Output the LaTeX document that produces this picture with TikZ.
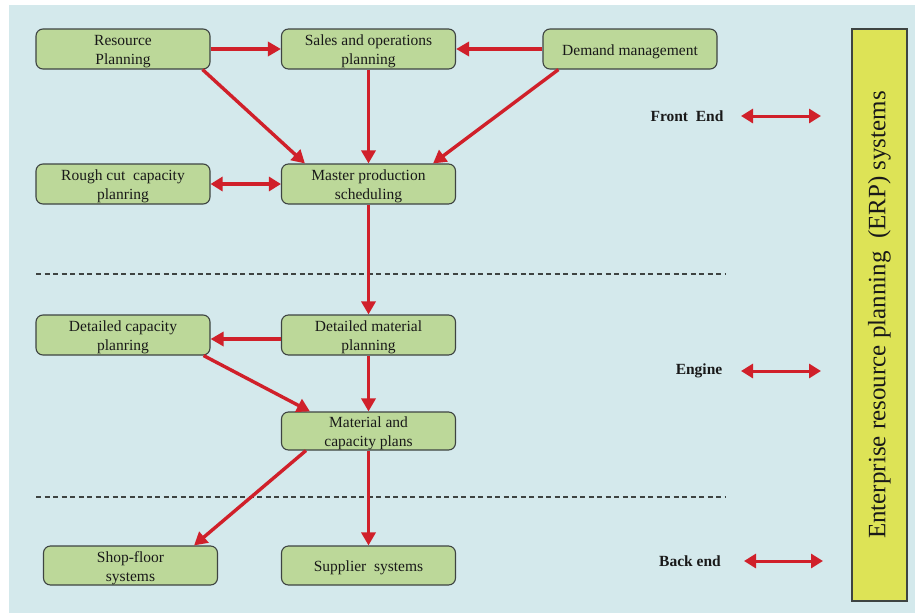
\documentclass[tikz,border=0pt]{standalone}
\usepackage{fontspec}
\setmainfont{Liberation Serif}
\usetikzlibrary{arrows.meta,calc}
\definecolor{bgblue}{HTML}{D4E9EC}
\definecolor{boxgreen}{HTML}{BCD899}
\definecolor{boxedge}{HTML}{3E4442}
\definecolor{flowred}{HTML}{D0202A}
\definecolor{erpyellow}{HTML}{DDE356}
\tikzset{
  stage/.style={draw=boxedge, line width=1.1pt, fill=boxgreen, rounded corners=7pt,
    minimum width=174pt, minimum height=40pt, inner sep=0pt},
  stagetext/.style={align=center, inner sep=0pt, yshift=-2.5pt,
    font=\fontsize{15.5}{19}\selectfont, text=black!90},
  flow/.style={draw=flowred, line width=3.4pt,
    -{Triangle[length=13pt,width=14pt]}},
  twoway/.style={draw=flowred, line width=3.4pt,
    {Triangle[length=12pt,width=14pt]}-{Triangle[length=12pt,width=14pt]}},
  layerlabel/.style={font=\fontsize{15.5}{18}\selectfont\bfseries, text=black!90},
  divider/.style={draw=boxedge, line width=1.2pt, dash pattern=on 5pt off 3.5pt},
}
\begin{document}
\begin{tikzpicture}[x=1pt,y=-1pt]
  \useasboundingbox (0,0) rectangle (915,613);
  \fill[white] (0,0) rectangle (915,613);
  \fill[bgblue] (9,5) rectangle (915,613);

  % planning stages
  \node[stage, label={[stagetext]center:{Resource\\Planning}}] (rp) at (123,49) {};
  \node[stage, label={[stagetext]center:{Sales and operations\\planning}}] (sop) at (368.5,49) {};
  \node[stage, label={[stagetext]center:{Demand management}}] (dm) at (630,49) {};
  \node[stage, label={[stagetext]center:{Rough cut\ \ capacity\\planring}}] (rccp) at (123,184) {};
  \node[stage, label={[stagetext]center:{Master production\\scheduling}}] (mps) at (368.5,184) {};
  \node[stage, label={[stagetext]center:{Detailed capacity\\planring}}] (dcp) at (123,335) {};
  \node[stage, label={[stagetext]center:{Detailed material\\planning}}] (dmp) at (368.5,335) {};
  \node[stage, minimum height=38pt, label={[stagetext]center:{Material and\\capacity plans}}] (mcp) at (368.5,431) {};
  \node[stage, minimum height=39pt, label={[stagetext]center:{Shop-floor\\systems}}] (sfs) at (130.5,565.5) {};
  \node[stage, minimum height=39pt, label={[stagetext]center:{Supplier\ \ systems}}] (sup) at (368.5,565.5) {};

  % layer dividers
  \coordinate (d1a) at (36,274);  \coordinate (d1b) at (725,274);
  \coordinate (d2a) at (36,497);  \coordinate (d2b) at (725,497);
  \draw[divider] (d1a) -- (d1b);
  \draw[divider] (d2a) -- (d2b);

  % material flow
  \draw[flow] (rp.east) -- (sop.west);
  \draw[flow] (dm.west) -- (sop.east);
  \draw[flow] ($(rp.south east)+(-8,0)$) -- ($(mps.north west)+(24,0)$);
  \draw[flow] (sop.south) -- (mps.north);
  \draw[flow] ($(dm.south west)+(16,0)$) -- ($(mps.north east)+(-23,0)$);
  \draw[twoway] (rccp.east) -- (mps.west);
  \draw[flow] ($(dmp.west)+(0,4)$) -- ($(dcp.east)+(0,4)$);
  \draw[flow] (mps.south) -- (dmp.north);
  \draw[flow] ($(dcp.south east)+(-7,0)$) -- ($(mcp.north west)+(29,0)$);
  \draw[flow] (dmp.south) -- (mcp.north);
  \draw[flow] ($(mcp.south west)+(25,0)$) -- ($(sfs.north east)+(-24,0)$);
  \draw[flow] (mcp.south) -- (sup.north);

  % layer labels
  \node[layerlabel] (fe) at (687,116) {Front\ \ End};
  \node[layerlabel] (en) at (699,371) {Engine};
  \node[layerlabel] (be) at (690,561) {Back end};
  \coordinate (fea) at (741,116); \coordinate (feb) at (821,116);
  \coordinate (ena) at (741,371); \coordinate (enb) at (821,371);
  \coordinate (bea) at (744,561); \coordinate (beb) at (823,561);
  \draw[twoway, line width=3pt] (fea) -- (feb);
  \draw[twoway, line width=3pt] (ena) -- (enb);
  \draw[twoway, line width=3pt] (bea) -- (beb);

  % ERP column
  \node[draw=boxedge, line width=1.2pt, fill=erpyellow, minimum width=55pt,
    minimum height=572pt, inner sep=0pt] (erp) at (879.5,315) {};
  \node[rotate=90, font=\fontsize{25}{28}\selectfont, text=black!90] (erptext)
    at (erp.center) {Enterprise resource planning\ \ (ERP) systems};
\end{tikzpicture}
\end{document}
